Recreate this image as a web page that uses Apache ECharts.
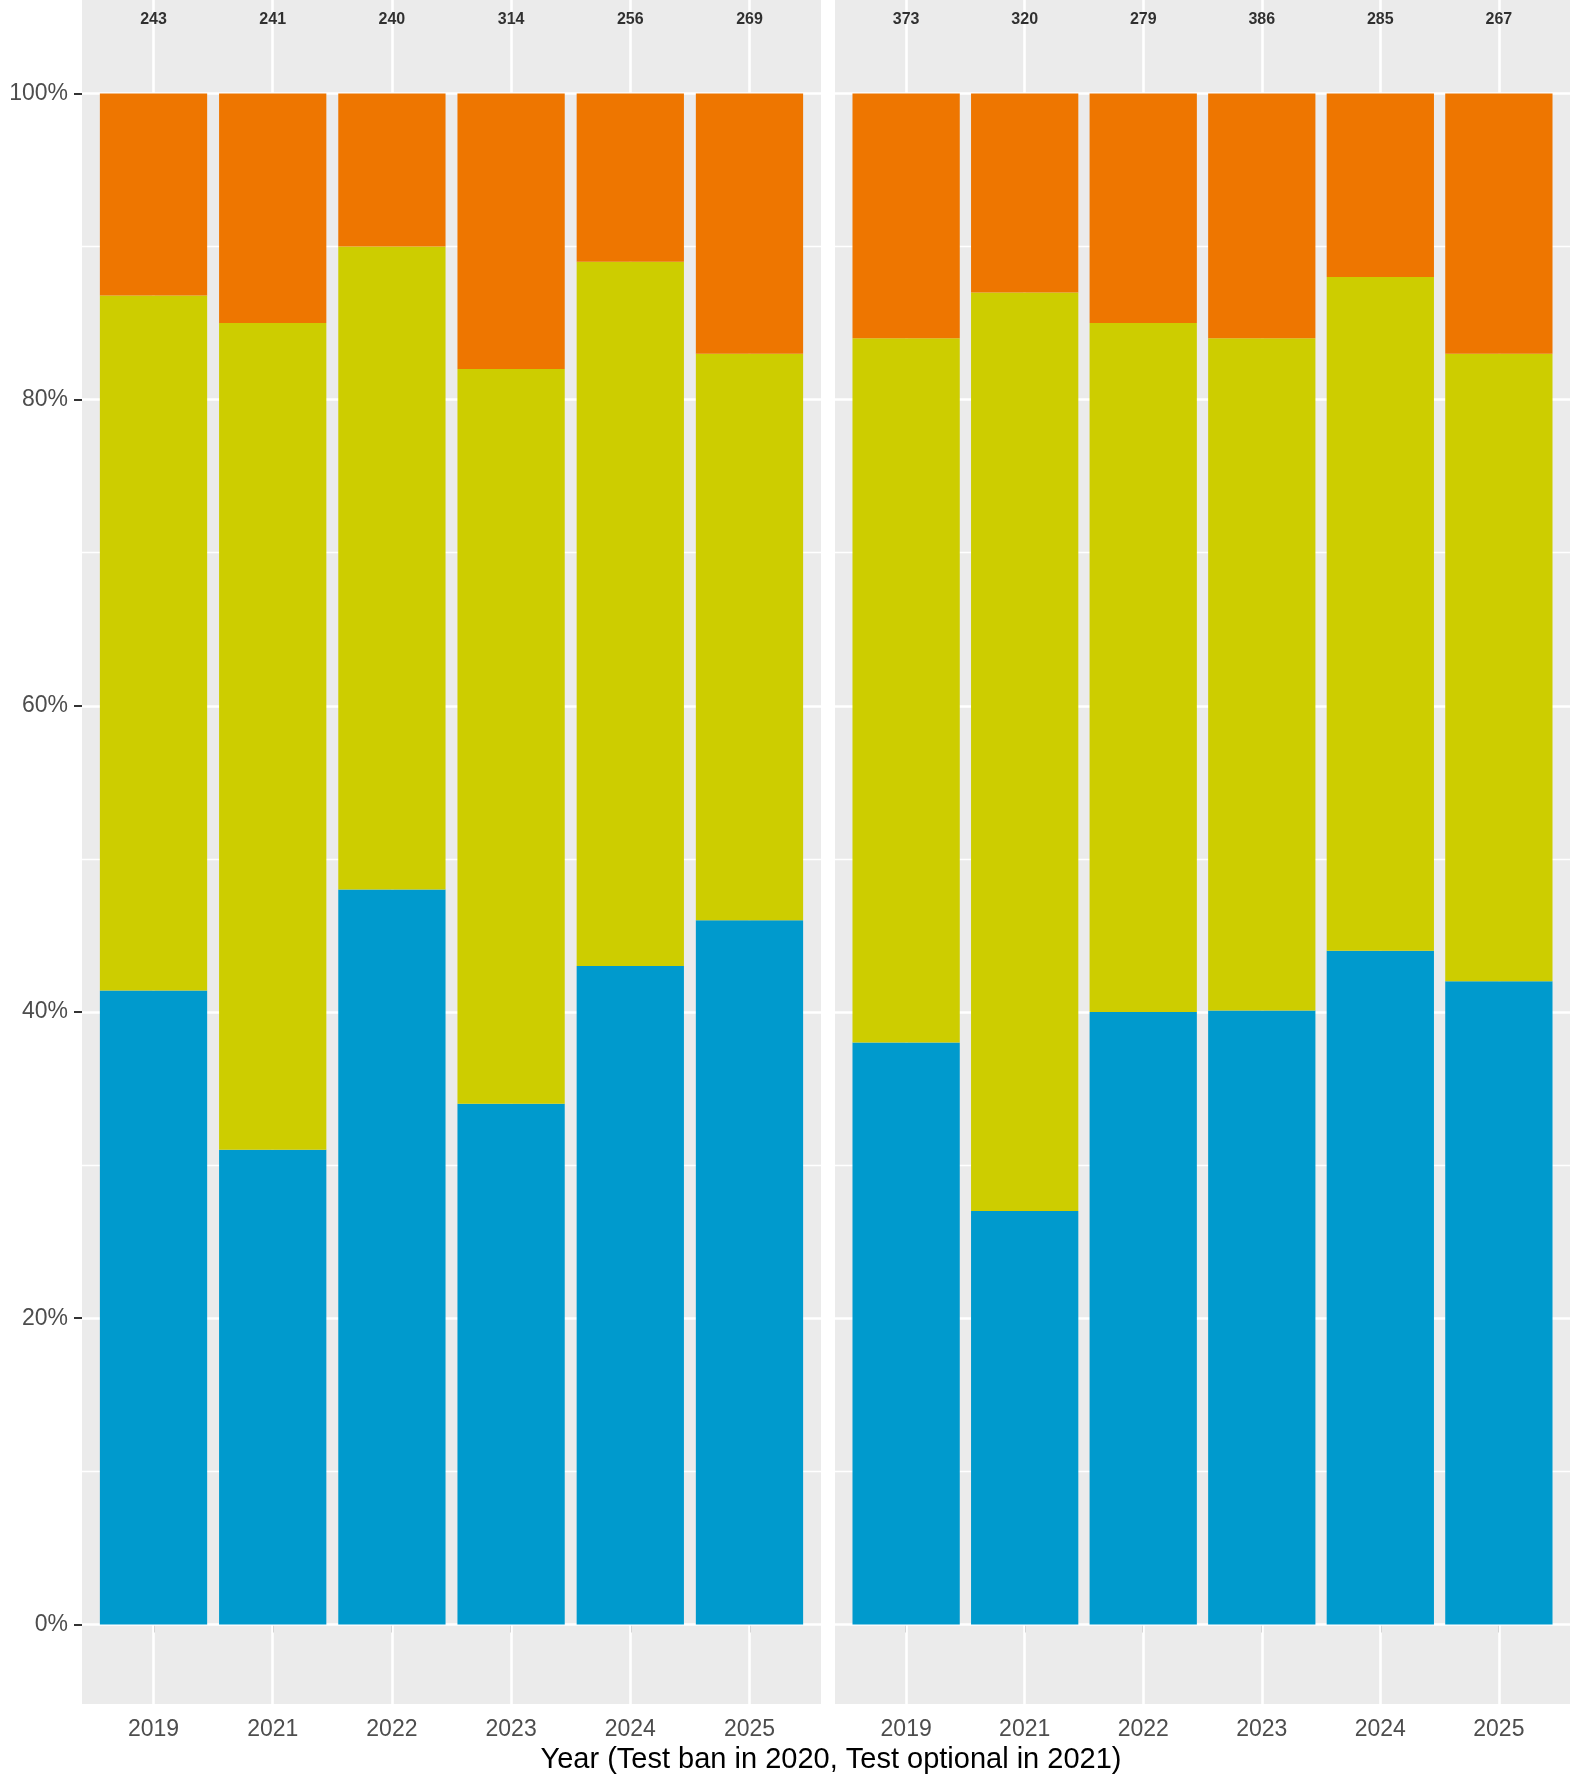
<!DOCTYPE html>
<html>
<head>
<meta charset="utf-8">
<script src="https://cdn.jsdelivr.net/npm/echarts@6/dist/echarts.min.js"></script>
<style>
html,body{margin:0;padding:0;background:#fff;}
#c{width:1570px;height:1775px;}
</style>
</head>
<body>
<div id="c"></div>
<script>
// ---- data ----
const years = ['2019', '2021', '2022', '2023', '2024', '2025'];
// left panel, percent of each bar (bottom -> top)
const leftBlue   = [41.4, 31.0, 48.0, 34.0, 43.0, 46.0];
const leftYellow = [45.4, 54.0, 42.0, 48.0, 46.0, 37.0];
const leftOrange = [13.2, 15.0, 10.0, 18.0, 11.0, 17.0];
const leftCounts = [243, 241, 240, 314, 256, 269];
// right panel
const rightBlue   = [38.0, 27.0, 40.0, 40.1, 44.0, 42.0];
const rightYellow = [46.0, 60.0, 45.0, 43.9, 44.0, 41.0];
const rightOrange = [16.0, 13.0, 15.0, 16.0, 12.0, 17.0];
const rightCounts = [373, 320, 279, 386, 285, 267];
const yTicks = [0, 20, 40, 60, 80, 100];
const yMinor = [10, 30, 50, 70, 90];
const countLevel = 104.8;
const xTitle = 'Year (Test ban in 2020, Test optional in 2021)';

// ---- style ----
const FONT = '"Liberation Sans", Arial, Helvetica, sans-serif';
const COLORS = {blue: '#009ACD', yellow: '#CDCD00', orange: '#EE7600'};
const PANEL_W = 739, PANEL_H = 1704;
const barW = PANEL_W / 6.2 * 0.9;
const xIdx = years.map((_, i) => i + 1);

const chart = echarts.init(document.getElementById('c'), null, {renderer: 'canvas'});

function gridLines() {
  const d = [];
  yTicks.forEach(v => d.push({yAxis: v, lineStyle: {width: 2.6}}));
  yMinor.forEach(v => d.push({yAxis: v, lineStyle: {width: 1.3}}));
  xIdx.forEach(v => d.push({xAxis: v, lineStyle: {width: 2.6}}));
  return d;
}

function panelSeries(p, blue, yellow, orange, counts) {
  // data items are [value, position]; encode maps them so the stack runs on y
  const mk = (arr) => arr.map((v, i) => [v, i + 1]);
  const bar = (name, arr, color) => ({
    type: 'bar', name: name, stack: 's' + p, xAxisIndex: p, yAxisIndex: p, z: 2,
    barWidth: barW, itemStyle: {color: color},
    encode: {x: 1, y: 0},
    data: mk(arr)
  });
  return [
    {
      type: 'scatter', xAxisIndex: p, yAxisIndex: p, z: 3,
      symbolSize: 0, silent: true,
      data: counts.map((c, i) => [i + 1, countLevel, c]),
      label: {
        show: true, position: 'inside',
        formatter: (o) => String(o.data[2]),
        fontFamily: FONT, fontSize: 16, fontWeight: 'bold', color: '#000'
      },
      markLine: {
        silent: true, symbol: ['none', 'none'], animation: false, z: 1,
        label: {show: false},
        lineStyle: {color: '#FFFFFF', type: 'solid', width: 2.6},
        data: gridLines()
      }
    },
    bar('blue', blue, COLORS.blue),
    bar('yellow', yellow, COLORS.yellow),
    bar('orange', orange, COLORS.orange)
  ];
}

function xAxis(p) {
  return {
    type: 'value', gridIndex: p, min: 0.4, max: 6.6,
    axisLine: {show: false},
    axisTick: {show: true, customValues: xIdx, length: 8, lineStyle: {color: '#333', width: 2}},
    axisLabel: {show: true, customValues: xIdx, formatter: (v) => years[Math.round(v) - 1] || '',
      fontFamily: FONT, fontSize: 23, color: '#4D4D4D', margin: 14},
    splitLine: {show: false}
  };
}
function yAxis(p) {
  return {
    type: 'value', gridIndex: p, min: -5.2, max: 106.1,
    axisLine: {show: false},
    axisTick: {show: p === 0, customValues: yTicks, length: 8, lineStyle: {color: '#333', width: 2}},
    axisLabel: {show: p === 0, customValues: yTicks, formatter: (v) => v + '%',
      fontFamily: FONT, fontSize: 23, color: '#4D4D4D', margin: 14},
    splitLine: {show: false}
  };
}

chart.setOption({
  animation: false,
  backgroundColor: '#FFFFFF',
  title: {
    text: xTitle, left: 826, top: 1740, textAlign: 'center',
    textStyle: {fontFamily: FONT, fontSize: 29, fontWeight: 'normal', color: '#000'}
  },
  grid: [
    {left: 82, top: 0, width: PANEL_W, height: PANEL_H, show: true, backgroundColor: '#EBEBEB', borderWidth: 0, containLabel: false},
    {left: 835, top: 0, width: PANEL_W, height: PANEL_H, show: true, backgroundColor: '#EBEBEB', borderWidth: 0, containLabel: false}
  ],
  xAxis: [xAxis(0), xAxis(1)],
  yAxis: [yAxis(0), yAxis(1)],
  series: [
    ...panelSeries(0, leftBlue, leftYellow, leftOrange, leftCounts),
    ...panelSeries(1, rightBlue, rightYellow, rightOrange, rightCounts)
  ]
});
</script>
</body>
</html>
